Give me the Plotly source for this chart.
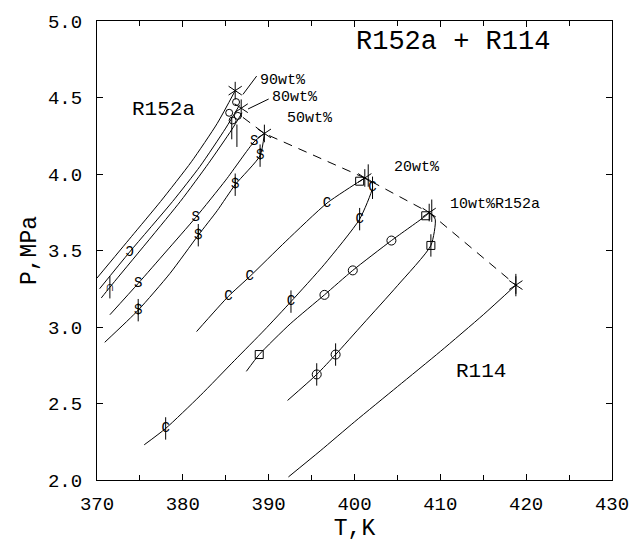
import plotly.graph_objects as go

# ---------------- data ----------------
# pure R152a side curves (top-left family)
r152a_T = [370.0, 374.0, 377.4, 381.0, 384.0, 386.1]
r152a_P = [3.32, 3.59, 3.82, 4.08, 4.33, 4.545]

wt90_T = [370.3, 373.8, 378.8, 382.0, 385.0, 386.6]
wt90_P = [3.25, 3.49, 3.82, 4.05, 4.30, 4.45]

wt80_T = [370.5, 371.5, 379.7, 383.0, 385.7, 386.9]
wt80_P = [3.19, 3.26, 3.82, 4.07, 4.29, 4.40]

# 50 wt% bubble (S) and dew ($)
wt50b_T = [371.5, 374.8, 378.0, 381.5, 385.0, 388.3, 389.5]
wt50b_P = [3.08, 3.285, 3.49, 3.716, 3.96, 4.21, 4.265]
wt50d_T = [370.9, 374.8, 378.5, 381.8, 384.0, 386.1, 389.0, 389.5]
wt50d_P = [2.90, 3.11, 3.35, 3.60, 3.76, 3.93, 4.12, 4.265]

# 20 wt% bubble (C) and dew (C with bar)
wt20b_T = [381.6, 385.3, 387.8, 392.0, 396.8, 400.6, 401.2]
wt20b_P = [2.97, 3.20, 3.33, 3.56, 3.81, 3.953, 3.974]
wt20d_T = [375.5, 378.0, 382.0, 386.0, 389.5, 392.6, 396.5, 400.6, 402.1, 402.0, 401.2]
wt20d_P = [2.23, 2.337, 2.55, 2.78, 2.98, 3.166, 3.41, 3.705, 3.91, 3.95, 3.974]

# 10 wt% bubble (o) and dew (phi)
wt10b_T = [387.4, 388.9, 392.5, 396.5, 399.8, 404.3, 408.3, 408.7]
wt10b_P = [2.71, 2.82, 3.02, 3.21, 3.37, 3.565, 3.727, 3.748]
wt10d_T = [392.2, 395.6, 397.8, 401.0, 405.0, 408.9, 409.4, 408.7]
wt10d_P = [2.52, 2.69, 2.82, 3.02, 3.27, 3.533, 3.705, 3.748]

# pure R114
r114_T = [392.3, 396.0, 400.0, 405.0, 410.0, 415.0, 418.8]
r114_P = [2.02, 2.19, 2.38, 2.61, 2.84, 3.08, 3.274]

# critical locus (dashed) and critical points (stars)
crit_T = [387.0, 389.5, 401.2, 408.7, 418.8]
crit_P = [4.37, 4.265, 3.974, 3.748, 3.274]
star_T = [386.1, 386.8, 389.5, 401.2, 408.7, 418.8]
star_P = [4.545, 4.43, 4.265, 3.974, 3.748, 3.274]

# measured-point symbols drawn as characters
sym_text_T = [373.8, 371.5, 374.8, 381.5, 388.3,
              374.8, 381.8, 386.1, 389.0,
              385.3, 387.8, 396.8,
              378.0, 392.6, 400.6, 402.1]
sym_text_P = [3.49, 3.26, 3.285, 3.716, 4.21,
              3.11, 3.60, 3.93, 4.12,
              3.20, 3.33, 3.81,
              2.337, 3.166, 3.705, 3.91]
sym_text = ["Ɔ", "∩", "S", "S", "S",
            "$", "$", "$", "$",
            "C", "C", "C",
            "C", "C", "C", "C"]

# cluster of small symbols near the R152a critical region
cluster_T = [385.4, 386.2, 385.8, 386.4]
cluster_P = [4.40, 4.47, 4.35, 4.38]

bar_T = [371.5, 385.7, 386.3, 374.8, 381.8, 386.1, 389.0,
         378.0, 392.6, 400.6, 402.1, 395.6, 397.8, 408.9, 418.8, 401.6, 409.0]
bar_P = [3.26, 4.30, 4.25, 3.11, 3.60, 3.93, 4.12,
         2.337, 3.166, 3.705, 3.91, 2.69, 2.82, 3.533, 3.274, 3.99, 3.76]

circle_T = [396.5, 399.8, 404.3, 395.6, 397.8]
circle_P = [3.21, 3.37, 3.565, 2.69, 2.82]
square_T = [388.9, 400.6, 408.3, 408.9]
square_P = [2.82, 3.953, 3.727, 3.533]

# text labels
label_text = ["90wt%", "80wt%", "50wt%", "20wt%", "10wt%R152a", "R152a", "R114", "R152a + R114"]
label_T = [388.8, 390.2, 391.9, 404.4, 410.9, 377.7, 414.7, 411.5]
label_P = [4.61, 4.50, 4.36, 4.04, 3.80, 4.42, 2.71, 4.86]
leader_T = [[387.0, 388.6], [387.6, 390.0]]
leader_P = [[4.52, 4.64], [4.425, 4.49]]

FONT = "Liberation Mono"
LINE = dict(color="black", width=1)

fig = go.Figure()

for T, P in [(r152a_T, r152a_P), (wt90_T, wt90_P), (wt80_T, wt80_P),
             (wt50b_T, wt50b_P), (wt50d_T, wt50d_P),
             (wt20b_T, wt20b_P), (wt20d_T, wt20d_P),
             (wt10b_T, wt10b_P), (wt10d_T, wt10d_P),
             (r114_T, r114_P)]:
    fig.add_trace(go.Scatter(x=T, y=P, mode="lines",
                             line=dict(color="black", width=1, shape="spline", smoothing=0.6),
                             showlegend=False, hoverinfo="skip"))

fig.add_trace(go.Scatter(x=crit_T, y=crit_P, mode="lines",
                         line=dict(color="black", width=1, dash="9px,7px"),
                         showlegend=False, hoverinfo="skip"))

for lt, lp in zip(leader_T, leader_P):
    fig.add_trace(go.Scatter(x=lt, y=lp, mode="lines", line=LINE, showlegend=False, hoverinfo="skip"))


def marker_trace(T, P, symbol, size):
    return go.Scatter(x=T, y=P, mode="markers",
                      marker=dict(symbol=symbol, size=size, color="black",
                                  line=dict(color="black", width=1)),
                      showlegend=False, hoverinfo="skip")


# stars: overlay two Y symbols to obtain a six-spoke asterisk
fig.add_trace(marker_trace(star_T, star_P, "y-up-open", 11))
fig.add_trace(marker_trace(star_T, star_P, "y-down-open", 11))
fig.add_trace(marker_trace(bar_T, bar_P, "line-ns-open", 16))
fig.add_trace(marker_trace(circle_T, circle_P, "circle-open", 9))
fig.add_trace(marker_trace(cluster_T, cluster_P, "circle-open", 7))
fig.add_trace(marker_trace(square_T, square_P, "square-open", 8))

fig.add_trace(go.Scatter(x=sym_text_T, y=sym_text_P, mode="text", text=sym_text,
                         textposition="middle center",
                         textfont=dict(family=FONT, size=14, color="black"),
                         showlegend=False, hoverinfo="skip"))

sizes = [15, 15, 15, 15, 15, 21, 21, 27]
for txt, t, p, s in zip(label_text, label_T, label_P, sizes):
    anchor = "center" if txt in ("R152a", "R114", "R152a + R114") else "left"
    fig.add_annotation(x=t, y=p, text=txt, showarrow=False, xanchor=anchor, yanchor="middle",
                       font=dict(family=FONT, size=s, color="black"))

axis_common = dict(showline=True, linecolor="black", linewidth=1, mirror="ticks",
                   ticks="inside", ticklen=6, tickcolor="black", tickwidth=1,
                   showgrid=False, zeroline=False,
                   tickfont=dict(family=FONT, size=19, color="black"))

fig.update_xaxes(range=[370, 430], dtick=10, tick0=370,
                 minor=dict(dtick=5, ticks="inside", ticklen=5, tickcolor="black"),
                 ticklabelstandoff=6,
                 title=dict(text="T,K", font=dict(family=FONT, size=23, color="black"), standoff=2),
                 **axis_common)
fig.update_yaxes(range=[2, 5], dtick=0.5, tick0=2, tickformat=".1f",
                 ticklabelstandoff=10,
                 title=dict(text="P,MPa", font=dict(family=FONT, size=23, color="black"), standoff=4),
                 **axis_common)

fig.update_layout(width=641, height=546,
                  margin=dict(l=97, r=22, t=18, b=64),
                  paper_bgcolor="white", plot_bgcolor="white")

fig.write_html("out.html")
